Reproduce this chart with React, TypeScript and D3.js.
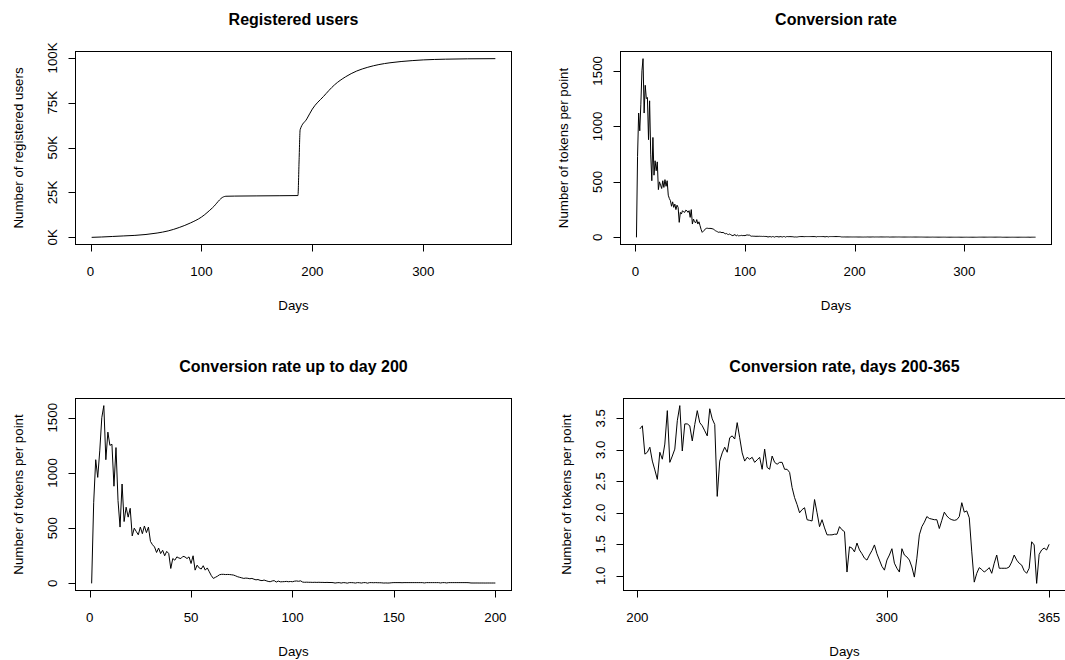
import React from "react";
import * as d3 from "d3";

// ---------- DATA ----------
// Registered users: key readings (day, users)
const userDays = [1, 10, 20, 30, 40, 50, 60, 70, 80, 90, 100, 110, 120, 122, 130, 150, 170, 187, 188, 189, 195, 200, 210, 220, 230, 240, 250, 260, 270, 280, 290, 300, 320, 340, 365];
const userCounts = [0, 200, 500, 800, 1100, 1600, 2400, 3600, 5500, 8000, 11300, 16500, 22600, 22900, 23000, 23100, 23200, 23300, 42000, 60000, 66000, 71500, 78500, 85000, 89500, 92700, 94800, 96300, 97300, 98000, 98500, 98900, 99300, 99500, 99600];

// Conversion rate (tokens per point), days 1-200
const convEarly = [
  0, 730, 1120, 960, 1200, 1500, 1610, 1120, 1370, 1250,
  1260, 880, 1230, 750, 510, 900, 560, 690, 600, 680,
  430, 500, 470, 440, 510, 450, 520, 460, 510, 380,
  350, 330, 280, 320, 270, 300, 250, 290, 270, 135,
  225, 210, 240, 230, 225, 245, 240, 225, 240, 180,
  250, 120, 165, 140, 130, 160, 120, 140, 105, 70,
  45, 55, 65, 78, 82, 82, 80, 81, 80, 78,
  75, 68, 60, 55, 50, 45, 48, 46, 42, 45,
  38, 32, 35, 28, 25, 30, 24, 18, 15, 22,
  25, 12, 21, 14, 15, 16, 18, 15, 17, 15,
  20, 22, 19, 23, 12, 10, 11, 10, 10, 9,
  10, 9, 10, 9, 9, 8, 9, 8, 8, 7,
  3, 6, 7, 3, 7, 6, 2, 7, 7, 6,
  3, 7, 6, 3, 7, 7, 2, 7, 7, 6,
  7, 6, 6, 5, 3, 4, 3, 4, 6, 7,
  7, 7, 7, 6, 7, 7, 7, 7, 7, 7,
  7, 7, 7, 7, 4, 7, 7, 7, 7, 7,
  7, 7, 4, 7, 7, 4, 7, 7, 7, 7,
  7, 7, 7, 7, 7, 7, 6, 3.6, 3.5, 3.4,
  3.6, 3.3, 3.5, 3.4, 3.2, 3.5, 3.4, 3.3, 3.4, 3.3,
];

// Conversion rate, days 201-365
const convLate = [
  3.33, 3.38, 2.93, 2.96, 3.04, 2.82, 2.68, 2.53, 2.96, 2.85,
  3.09, 3.62, 2.80, 2.90, 3.01, 3.46, 3.70, 2.98, 3.41, 3.41,
  3.38, 3.14, 3.40, 3.62, 3.43, 3.38, 3.30, 3.22, 3.65, 3.49,
  3.40, 2.26, 2.82, 2.95, 3.04, 2.96, 3.19, 3.22, 3.17, 3.43,
  3.19, 2.95, 2.82, 2.88, 2.85, 2.88, 2.80, 2.84, 2.88, 2.69,
  3.01, 2.72, 2.69, 2.90, 2.80, 2.77, 2.80, 2.80, 2.69, 2.69,
  2.64, 2.40, 2.24, 2.13, 2.00, 2.05, 2.08, 1.89, 1.88, 1.87,
  2.21, 2.00, 1.78, 1.89, 1.76, 1.65, 1.65, 1.65, 1.66, 1.66,
  1.78, 1.73, 1.70, 1.06, 1.46, 1.44, 1.38, 1.52, 1.41, 1.35,
  1.28, 1.25, 1.33, 1.40, 1.49, 1.35, 1.25, 1.15, 1.09, 1.25,
  1.33, 1.43, 1.20, 1.12, 1.06, 1.43, 1.33, 1.30, 1.25, 1.14,
  0.98, 1.28, 1.65, 1.78, 1.85, 1.94, 1.91, 1.90, 1.89, 1.89,
  1.75, 1.88, 2.01, 1.95, 1.91, 1.89, 1.88, 1.89, 1.94, 2.16,
  2.01, 2.03, 1.92, 1.38, 0.90, 1.04, 1.13, 1.10, 1.06, 1.09,
  1.13, 1.04, 1.20, 1.33, 1.12, 1.12, 1.12, 1.12, 1.14, 1.22,
  1.33, 1.25, 1.20, 1.17, 1.08, 1.04, 1.12, 1.54, 1.49, 0.88,
  1.34, 1.41, 1.44, 1.41, 1.50,
];

const xTicksFull = [0, 100, 200, 300];
const xTicksEarly = [0, 50, 100, 150, 200];
const xTicksLate = [200, 300, 365];
const yTicksUsers = [0, 25000, 50000, 75000, 100000];
const yTicksConv = [0, 500, 1000, 1500];
const yTicksLate = [1.0, 1.5, 2.0, 2.5, 3.0, 3.5];

const titles = ["Registered users", "Conversion rate", "Conversion rate up to day 200", "Conversion rate, days 200-365"];
const yLabels = ["Number of registered users", "Number of tokens per point"];
const xLabel = "Days";

// ---------- RENDER ----------
const FONT = '"Liberation Sans", Arial, Helvetica, sans-serif';

type Box = { l: number; r: number; t: number; b: number };

function padded(ext: [number, number]): [number, number] {
  const p = (ext[1] - ext[0]) * 0.04;
  return [ext[0] - p, ext[1] + p];
}

function Panel(props: {
  box: Box;
  xs: number[];
  ys: number[];
  xTicks: number[];
  yTicks: number[];
  yFmt: (v: number) => string;
  title: string;
  ylab: string;
  smooth?: boolean;
}) {
  const { box, xs, ys, xTicks, yTicks, yFmt, title, ylab, smooth } = props;
  const x = d3.scaleLinear().domain(padded(d3.extent(xs) as [number, number])).range([box.l, box.r]);
  const y = d3.scaleLinear().domain(padded(d3.extent(ys) as [number, number])).range([box.b, box.t]);
  const pts: [number, number][] = xs.map((d, i) => [d, ys[i]]);
  const line = d3
    .line<[number, number]>()
    .x((d) => x(d[0]))
    .y((d) => y(d[1]))
    .curve(smooth ? d3.curveMonotoneX : d3.curveLinear);
  const cx = (box.l + box.r) / 2;
  const cy = (box.t + box.b) / 2;
  const tick = 7;
  return (
    <g>
      <path d={line(pts) || ""} fill="none" stroke="#000" strokeWidth={1} strokeLinejoin="round" />
      <rect x={box.l} y={box.t} width={box.r - box.l} height={box.b - box.t} fill="none" stroke="#000" strokeWidth={1} />
      {/* x axis */}
      <line x1={x(xTicks[0])} x2={x(xTicks[xTicks.length - 1])} y1={box.b} y2={box.b} stroke="#000" />
      {xTicks.map((t) => (
        <g key={"x" + t}>
          <line x1={Math.round(x(t)) + 0.5} x2={Math.round(x(t)) + 0.5} y1={box.b} y2={box.b + tick} stroke="#000" />
          <text x={x(t)} y={box.b + 31} textAnchor="middle" fontSize={13.3} fontFamily={FONT} fill="#000">
            {t}
          </text>
        </g>
      ))}
      {/* y axis */}
      <line x1={box.l} x2={box.l} y1={y(yTicks[0])} y2={y(yTicks[yTicks.length - 1])} stroke="#000" />
      {yTicks.map((t) => (
        <g key={"y" + t}>
          <line x1={box.l - tick} x2={box.l} y1={Math.round(y(t)) + 0.5} y2={Math.round(y(t)) + 0.5} stroke="#000" />
          <text
            transform={`translate(${box.l - 23.5},${y(t)}) rotate(-90)`}
            dy="0.35em"
            textAnchor="middle"
            fontSize={13.3}
            fontFamily={FONT}
            fill="#000"
          >
            {yFmt(t)}
          </text>
        </g>
      ))}
      <text x={cx} y={box.t - 26.7} textAnchor="middle" fontSize={16} fontWeight="bold" fontFamily={FONT} fill="#000">
        {title}
      </text>
      <text x={cx} y={box.b + 65} textAnchor="middle" fontSize={13.3} fontFamily={FONT} fill="#000">
        {xLabel}
      </text>
      <text
        transform={`translate(${box.l - 57},${cy}) rotate(-90)`}
        dy="0.35em"
        textAnchor="middle"
        fontSize={13.3}
        fontFamily={FONT}
        fill="#000"
      >
        {ylab}
      </text>
    </g>
  );
}

export default function App() {
  const earlyDays = convEarly.map((_, i) => i + 1);
  const lateDays = convLate.map((_, i) => i + 201);
  const allDays = earlyDays.concat(lateDays);
  const allConv = convEarly.concat(convLate);
  const fmtK = (v: number) => `${v / 1000}K`;
  const fmtInt = (v: number) => String(v);
  const fmt1 = d3.format(".1f");
  return (
    <svg width={1065} height={660} style={{ position: "absolute", left: 0, top: 0, background: "#fff" }}>
      <rect x={0} y={0} width={1065} height={660} fill="#fff" />
      <Panel
        box={{ l: 75.5, r: 511.5, t: 51.5, b: 244.5 }}
        xs={userDays}
        ys={userCounts}
        xTicks={xTicksFull}
        yTicks={yTicksUsers}
        yFmt={fmtK}
        title={titles[0]}
        ylab={yLabels[0]}
        smooth
      />
      <Panel
        box={{ l: 620.5, r: 1051.5, t: 51.5, b: 244.5 }}
        xs={allDays}
        ys={allConv}
        xTicks={xTicksFull}
        yTicks={yTicksConv}
        yFmt={fmtInt}
        title={titles[1]}
        ylab={yLabels[1]}
      />
      <Panel
        box={{ l: 75.5, r: 511.5, t: 398.5, b: 590.5 }}
        xs={earlyDays}
        ys={convEarly}
        xTicks={xTicksEarly}
        yTicks={yTicksConv}
        yFmt={fmtInt}
        title={titles[2]}
        ylab={yLabels[1]}
      />
      <Panel
        box={{ l: 623.5, r: 1065.5, t: 398.5, b: 590.5 }}
        xs={lateDays}
        ys={convLate}
        xTicks={xTicksLate}
        yTicks={yTicksLate}
        yFmt={fmt1}
        title={titles[3]}
        ylab={yLabels[1]}
      />
    </svg>
  );
}
